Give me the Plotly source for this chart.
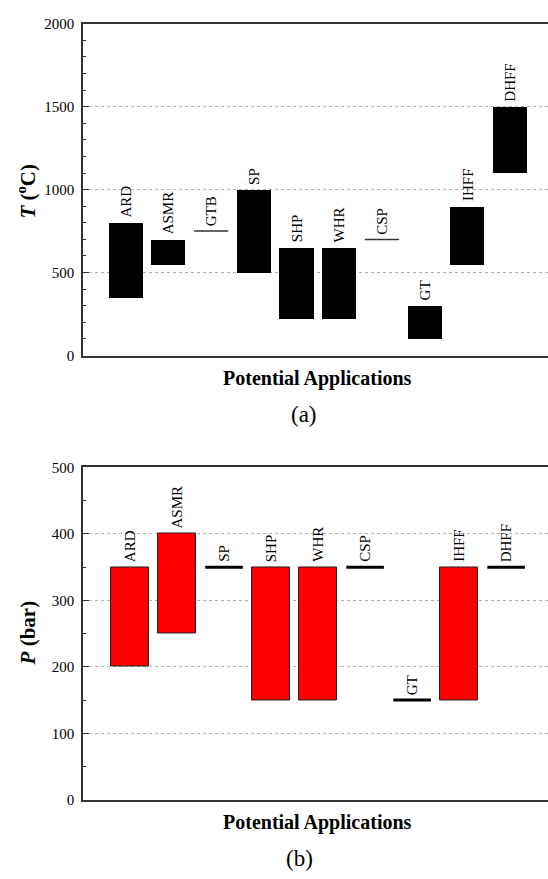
import plotly.graph_objects as go

# ---- data ----
t_apps = ["ARD", "ASMR", "GTB", "SP", "SHP", "WHR", "CSP", "GT", "IHFF", "DHFF"]
t_low = [350, 550, 750, 500, 225, 225, 700, 100, 550, 1100]
t_high = [800, 700, 750, 1000, 650, 650, 700, 300, 900, 1500]

p_apps = ["ARD", "ASMR", "SP", "SHP", "WHR", "CSP", "GT", "IHFF", "DHFF"]
p_low = [200, 250, 350, 150, 150, 350, 150, 150, 350]
p_high = [350, 400, 350, 350, 350, 350, 150, 350, 350]

t_ticks = [0, 500, 1000, 1500, 2000]
p_ticks = [0, 100, 200, 300, 400, 500]

FONT = "'Liberation Serif', 'Times New Roman', Times, serif"
W, H = 548, 879
BAR_W = 0.8

fig = go.Figure()


def add_panel(apps, low, high, xa, ya, bar_color, bar_line, seg_color, seg_width):
    pos = list(range(1, len(apps) + 1))
    bx, bb, bh = [], [], []
    lx, ly = [], []
    for p, lo, hi in zip(pos, low, high):
        if hi > lo:
            bx.append(p)
            bb.append(lo)
            bh.append(hi - lo)
        else:
            lx += [p - BAR_W / 2, p + BAR_W / 2, None]
            ly += [lo, lo, None]
    fig.add_trace(go.Bar(x=bx, y=bh, base=bb, width=BAR_W, xaxis=xa, yaxis=ya,
                         marker=dict(color=bar_color, line=dict(color=bar_line[0], width=bar_line[1])),
                         showlegend=False, hoverinfo="skip"))
    fig.add_trace(go.Scatter(x=lx, y=ly, mode="lines", xaxis=xa, yaxis=ya,
                             line=dict(color=seg_color, width=seg_width),
                             showlegend=False, hoverinfo="skip"))
    for p, name, hi in zip(pos, apps, high):
        fig.add_annotation(x=p, y=hi, xref=xa, yref=ya, text=name, textangle=-90,
                           showarrow=False, xanchor="center", yanchor="bottom", yshift=3,
                           font=dict(family=FONT, size=15, color="black"))


add_panel(t_apps, t_low, t_high, "x", "y", "black", ("black", 0), "#333", 1.5)
add_panel(p_apps, p_low, p_high, "x2", "y2", "#ff0000", ("#222", 1), "black", 3)

x0 = 83 / W
top_dom = [1 - 354 / H, 1 - 16 / H]
bot_dom = [1 - 806.5 / H, 1 - 468 / H]

axis_common = dict(showline=True, linecolor="#333", linewidth=1.5, zeroline=False)

fig.update_layout(
    width=W, height=H, margin=dict(l=0, r=0, t=0, b=0),
    paper_bgcolor="white", plot_bgcolor="white",
    bargap=0, barmode="overlay",
    font=dict(family=FONT, color="black"),
    xaxis=dict(domain=[x0, 1], range=[0, 10.89], mirror=True, showgrid=False,
               showticklabels=False, ticks="", anchor="y", **axis_common),
    yaxis=dict(domain=top_dom, range=[0, 2000], tickvals=t_ticks, ticks="inside", ticklen=6,
               tickwidth=1, tickcolor="#333", showgrid=True, gridcolor="#b0b0b0", griddash="dot",
               gridwidth=1, minor=dict(dtick=100, ticks="inside", ticklen=3, tickcolor="#333", showgrid=False),
               tickfont=dict(family=FONT, size=15, color="black"), ticklabelstandoff=4,
               anchor="x", **axis_common),
    xaxis2=dict(domain=[x0, 1], range=[0, 9.89], mirror=True, showgrid=False,
                showticklabels=False, ticks="", anchor="y2", **axis_common),
    yaxis2=dict(domain=bot_dom, range=[0, 500], tickvals=p_ticks, ticks="inside", ticklen=6,
                tickwidth=1, tickcolor="#333", showgrid=True, gridcolor="#b0b0b0", griddash="dot",
                gridwidth=1, minor=dict(dtick=50, ticks="inside", ticklen=3, tickcolor="#333", showgrid=False),
                tickfont=dict(family=FONT, size=15, color="black"), ticklabelstandoff=4,
                anchor="x2", **axis_common),
)

# titles as paper annotations
def ptext(x, y, text, size, angle=0):
    fig.add_annotation(x=x / W, y=1 - y / H, xref="paper", yref="paper", text=text,
                       textangle=angle, showarrow=False, xanchor="center", yanchor="middle",
                       font=dict(family=FONT, size=size, color="black"))

ptext(27, 187, "<b><i>T</i> (<sup>o</sup>C)</b>", 21, -90)
ptext(317, 377, "<b>Potential Applications</b>", 20)
ptext(304, 414, "(a)", 23)
ptext(28, 637, "<b><i>P</i> (bar)</b>", 21, -90)
ptext(317, 830, "<b>Potential Applications</b>", 20)
ptext(299, 866, "(b)", 23)

fig.write_html("out.html", config={"displayModeBar": False})

# remove default page margins so the figure sits at the window origin
with open("out.html", "r", encoding="utf-8") as f:
    html = f.read()
html = html.replace("<body>", "<body style=\"margin:0;padding:0;overflow:hidden\">", 1)
with open("out.html", "w", encoding="utf-8") as f:
    f.write(html)
